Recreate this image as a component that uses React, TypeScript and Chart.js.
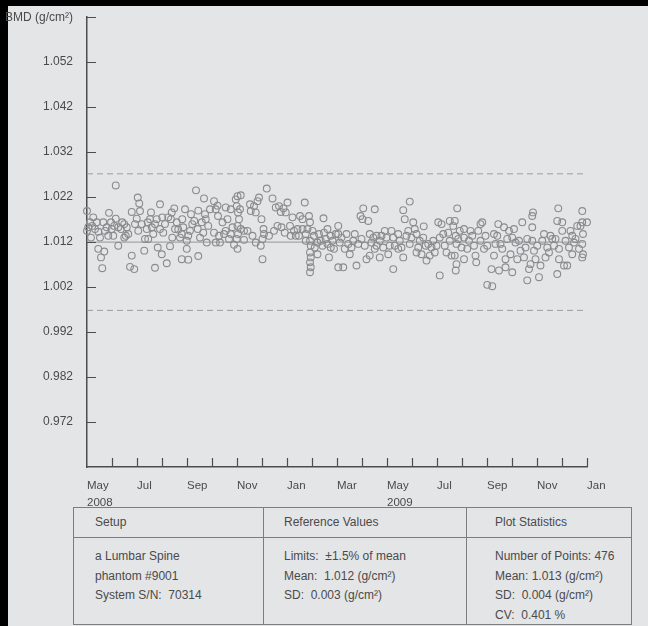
import React, { useEffect, useRef } from 'react';
import { Chart, registerables } from 'chart.js';

Chart.register(...registerables);

// ---- axis definitions ----
const yTickValues = [0.962, 0.972, 0.982, 0.992, 1.002, 1.012, 1.022, 1.032, 1.042, 1.052, 1.062];
const yTickLabels = ['', '0.972', '0.982', '0.992', '1.002', '1.012', '1.022', '1.032', '1.042', '1.052', 'BMD (g/cm²)'];
// months since May 2008
const monthTickLabels = ['May', '', 'Jul', '', 'Sep', '', 'Nov', '', 'Jan', '', 'Mar', '', 'May', '', 'Jul', '', 'Sep', '', 'Nov', '', 'Jan'];
const yearTickLabels = ['2008', '', '', '', '', '', '', '', '', '', '', '', '2009', '', '', '', '', '', '', '', ''];

// ---- reference values ----
const refMean = 1.012;
const limitPercent = 1.5;
const refLineStart = 0;
const refLineEnd = 19.9;

// ---- measurements: [months since 1 May 2008, BMD g/cm²] ----
const mayToSep2008: [number, number][] = [
  [0, 1.0189], [0, 1.0145], [0.12, 1.0164], [0.21, 1.0156], [0.16, 1.013], [0.32, 1.0149], [0.45, 1.0143], [0.45, 1.0105],
  [0.69, 1.0099], [0.56, 1.0086], [0.61, 1.0062], [0.65, 1.0164], [0.79, 1.0153], [0.88, 1.0185], [0.96, 1.0164], [0.85, 1.0134],
  [1.05, 1.0134], [1.15, 1.0246], [1.15, 1.0172], [1.25, 1.0153], [1.25, 1.0112], [1.36, 1.0149], [1.49, 1.016], [1.55, 1.0134],
  [1.65, 1.0138], [1.79, 1.0187], [1.79, 1.009], [1.72, 1.0065], [1.89, 1.006], [1.92, 1.016], [1.99, 1.0172], [2.03, 1.0219],
  [2.09, 1.0206], [2.05, 1.0145], [2.19, 1.016], [2.29, 1.0101], [2.32, 1.0127], [2.39, 1.0149], [2.52, 1.0171], [2.56, 1.0186],
  [2.59, 1.0153], [2.72, 1.016], [2.72, 1.0063], [2.83, 1.0108], [2.92, 1.0204], [2.92, 1.0149], [2.99, 1.0093], [3.05, 1.0141],
  [3.19, 1.0073], [3.25, 1.0175], [3.32, 1.0111], [3.41, 1.013], [3.49, 1.0195], [3.52, 1.0149], [3.65, 1.0148], [3.72, 1.013],
  [3.79, 1.0082], [3.81, 1.0171], [3.92, 1.0193], [3.99, 1.0105], [3.99, 1.0123], [4.05, 1.0081], [4.16, 1.0182], [4.21, 1.016],
  [4.36, 1.0235], [4.45, 1.019], [4.45, 1.0089], [4.52, 1.013], [4.65, 1.0141], [4.68, 1.0217], [4.72, 1.0182], [4.79, 1.0119],
  [4.92, 1.0193], [0.25, 1.0175], [0.72, 1.0145], [1.09, 1.0156], [1.41, 1.0164], [1.59, 1.0153], [2.12, 1.0189], [2.43, 1.0164],
  [2.65, 1.0138], [2.79, 1.0171], [3.12, 1.016], [3.36, 1.0171], [3.59, 1.0164], [3.85, 1.0153], [4.12, 1.0145], [4.29, 1.0167],
  [4.59, 1.0164], [4.85, 1.0156], [0.52, 1.013], [0.05, 1.0153], [1.49, 1.013], [3.39, 1.0186], [3.79, 1.0138], [4.05, 1.0134],
  [0.39, 1.0164], [0.99, 1.0149], [2.45, 1.0127], [3.01, 1.0175], [4.43, 1.0149], [4.75, 1.0171],
];

const octToFeb2009: [number, number][] = [
  [5.08, 1.0211], [5.15, 1.0193], [5.24, 1.0178], [5.22, 1.0201], [5.42, 1.0164], [5.55, 1.0197], [5.62, 1.0171], [5.55, 1.0145],
  [5.08, 1.0141], [5.15, 1.0119], [5.32, 1.0119], [5.75, 1.0193], [5.82, 1.0153], [5.68, 1.0127], [5.88, 1.0114], [5.95, 1.0215],
  [6.02, 1.0222], [6.15, 1.0224], [5.99, 1.02], [6.04, 1.0186], [6.08, 1.0171], [6.02, 1.0156], [6.04, 1.0138], [5.99, 1.0127],
  [6.02, 1.0105], [6.12, 1.0193], [6.15, 1.0149], [6.28, 1.0145], [6.28, 1.0125], [6.52, 1.0204], [6.55, 1.0189], [6.68, 1.02],
  [6.82, 1.0211], [6.88, 1.0219], [6.75, 1.0186], [6.98, 1.0171], [7.06, 1.0149], [7.02, 1.0127], [6.75, 1.0119], [6.95, 1.0112],
  [7.02, 1.0082], [7.19, 1.0239], [7.42, 1.0217], [7.48, 1.0145], [7.62, 1.0156], [7.55, 1.0197], [7.68, 1.02], [7.75, 1.0187],
  [7.86, 1.0195], [7.95, 1.0186], [8.02, 1.0208], [7.91, 1.0141], [8.12, 1.0156], [8.22, 1.0175], [8.28, 1.0145], [8.42, 1.0149],
  [8.35, 1.0134], [8.52, 1.0178], [8.62, 1.0171], [8.71, 1.0208], [8.62, 1.0149], [8.75, 1.0138], [8.82, 1.0149], [8.88, 1.0178],
  [8.92, 1.0164], [8.92, 1.0123], [8.95, 1.0112], [8.92, 1.0097], [8.95, 1.0086], [8.92, 1.0075], [8.95, 1.0064], [8.92, 1.0053],
  [9.08, 1.0134], [9.11, 1.0108], [9.22, 1.0093], [9.28, 1.0138], [9.35, 1.0123], [9.46, 1.0173], [9.42, 1.0112], [9.55, 1.0127],
  [9.62, 1.0116], [9.68, 1.0086], [9.75, 1.0134], [9.82, 1.0123], [9.95, 1.0138], [9.88, 1.0105], [5.28, 1.0134], [5.48, 1.0138],
  [5.75, 1.0138], [6.42, 1.0145], [6.62, 1.0134], [7.08, 1.0138], [7.28, 1.0134], [7.78, 1.0153], [8.15, 1.0134], [8.48, 1.0134],
  [8.75, 1.0123], [9.02, 1.0145], [9.22, 1.0119], [9.48, 1.0141], [9.75, 1.0108], [9.62, 1.0149],
];

const marToJul2009: [number, number][] = [
  [10.05, 1.0156], [10.05, 1.0138], [10.11, 1.0119], [10.05, 1.0064], [10.25, 1.0064], [10.31, 1.0105], [10.38, 1.0138], [10.45, 1.0116],
  [10.51, 1.0093], [10.58, 1.0108], [10.71, 1.0138], [10.78, 1.0068], [10.85, 1.0116], [10.94, 1.0178], [11.02, 1.0171], [11.05, 1.0195],
  [11.25, 1.0167], [11.11, 1.0112], [11.18, 1.0082], [11.31, 1.0138], [11.38, 1.0119], [11.31, 1.009], [11.51, 1.0193], [11.51, 1.0105],
  [11.58, 1.0112], [11.71, 1.0086], [11.71, 1.0123], [11.85, 1.0108], [11.91, 1.0145], [11.98, 1.013], [12.05, 1.0093], [12.18, 1.0145],
  [12.25, 1.006], [12.25, 1.013], [12.31, 1.0112], [12.45, 1.0138], [12.45, 1.0105], [12.51, 1.0123], [12.65, 1.0191], [12.71, 1.0171],
  [12.65, 1.0086], [12.85, 1.0145], [12.91, 1.021], [12.91, 1.0116], [13.05, 1.0164], [13.11, 1.0149], [13.18, 1.0138], [13.25, 1.0108],
  [13.31, 1.0123], [13.38, 1.0093], [13.47, 1.0155], [13.55, 1.0112], [13.58, 1.0079], [13.71, 1.009], [13.78, 1.0108], [13.85, 1.0123],
  [13.91, 1.0097], [13.98, 1.0112], [14.05, 1.0164], [14.11, 1.0046], [14.18, 1.016], [14.25, 1.0138], [14.31, 1.0112], [14.38, 1.0097],
  [14.45, 1.0141], [14.51, 1.0167], [14.58, 1.009], [14.65, 1.0156], [14.71, 1.0167], [14.75, 1.0134], [14.78, 1.0116], [14.71, 1.009],
  [14.78, 1.0071], [14.75, 1.0057], [14.81, 1.0195], [14.91, 1.0145], [14.98, 1.0108], [10.18, 1.013], [10.65, 1.0123], [10.98, 1.0127],
  [11.45, 1.013], [11.78, 1.0134], [12.11, 1.0112], [12.58, 1.0108], [12.78, 1.0134], [12.98, 1.013], [13.45, 1.013], [13.65, 1.0116],
  [14.11, 1.013], [14.51, 1.0123], [14.85, 1.0127], [11.58, 1.0134], [13.18, 1.0097],
];

const augToDec2009: [number, number][] = [
  [15.08, 1.0149], [15.08, 1.013], [15.08, 1.0082], [15.21, 1.0105], [15.28, 1.0123], [15.41, 1.0134], [15.48, 1.0112], [15.54, 1.009],
  [15.57, 1.0075], [15.65, 1.0145], [15.74, 1.016], [15.81, 1.0164], [15.74, 1.0123], [15.88, 1.0105], [16.01, 1.0112], [16.01, 1.0025],
  [16.21, 1.0022], [16.18, 1.006], [16.28, 1.0138], [16.28, 1.009], [16.34, 1.0116], [16.45, 1.016], [16.48, 1.0057], [16.54, 1.0116],
  [16.61, 1.0105], [16.68, 1.0153], [16.74, 1.0082], [16.74, 1.0064], [16.81, 1.0127], [16.88, 1.0145], [16.94, 1.0093], [17.01, 1.0053],
  [17.08, 1.0149], [17.14, 1.0119], [17.21, 1.0082], [17.28, 1.0123], [17.41, 1.0164], [17.48, 1.0086], [17.54, 1.0108], [17.61, 1.0035],
  [17.68, 1.006], [17.74, 1.0071], [17.81, 1.0178], [17.84, 1.0186], [17.81, 1.0153], [17.81, 1.0123], [17.88, 1.0101], [17.94, 1.0082],
  [18.01, 1.0112], [18.08, 1.0042], [18.14, 1.0068], [18.21, 1.0123], [18.34, 1.0086], [18.41, 1.0108], [18.54, 1.0134], [18.61, 1.0127],
  [18.68, 1.0112], [18.81, 1.0049], [18.81, 1.0167], [18.85, 1.0195], [18.88, 1.0082], [18.88, 1.0105], [19.01, 1.0164], [19.01, 1.0145],
  [19.08, 1.0068], [19.21, 1.0068], [19.28, 1.0108], [19.34, 1.0145], [19.41, 1.0093], [19.48, 1.0119], [19.54, 1.0127], [19.74, 1.0156],
  [19.81, 1.0189], [19.81, 1.0164], [19.84, 1.0138], [19.81, 1.0116], [19.84, 1.0093], [19.81, 1.0086], [20.0, 1.0164], [19.61, 1.0156],
  [15.34, 1.0145], [15.94, 1.0134], [16.41, 1.0134], [17.01, 1.013], [17.34, 1.0101], [17.61, 1.0127], [18.28, 1.0138], [18.48, 1.0097],
  [18.74, 1.0127], [19.14, 1.0123], [19.41, 1.0134], [19.68, 1.0105],
];

// ---- table text ----
const tableHeaders = ['Setup', 'Reference Values', 'Plot Statistics'];
const setupLines = ['a Lumbar Spine', 'phantom #9001', 'System S/N:  70314'];
const referenceLines = ['Limits:  ±1.5% of mean', 'Mean:  1.012 (g/cm²)', 'SD:  0.003 (g/cm²)'];
const statisticsLines = ['Number of Points: 476', 'Mean: 1.013 (g/cm²)', 'SD:  0.004 (g/cm²)', 'CV:  0.401 %'];

const FONT = "'Liberation Sans', Arial, Helvetica, sans-serif";
const TEXT = '#4a4a4a';
const AXIS = '#4d4d4d';

const innerTicks = {
  id: 'innerTicks',
  afterDraw(chart: any) {
    const { ctx, chartArea, scales } = chart;
    ctx.save();
    ctx.strokeStyle = AXIS;
    ctx.lineWidth = 1.2;
    ctx.beginPath();
    scales.y.ticks.forEach((t: any, i: number) => {
      if (i === 0) return;
      const y = Math.round(scales.y.getPixelForValue(t.value)) + 0.5;
      ctx.moveTo(chartArea.left, y);
      ctx.lineTo(chartArea.left + 9, y);
    });
    scales.x.ticks.forEach((t: any, i: number) => {
      if (i === 0) return;
      const x = Math.round(scales.x.getPixelForValue(t.value)) + 0.5;
      ctx.moveTo(x, chartArea.bottom);
      ctx.lineTo(x, chartArea.bottom - 9);
    });
    ctx.stroke();
    ctx.restore();
  },
};

export default function App() {
  const canvasRef = useRef<HTMLCanvasElement | null>(null);

  useEffect(() => {
    const canvas = canvasRef.current;
    if (!canvas) return;
    const points = [...mayToSep2008, ...octToFeb2009, ...marToJul2009, ...augToDec2009].map(([x, y]) => ({ x, y }));
    const upper = refMean * (1 + limitPercent / 100);
    const lower = refMean * (1 - limitPercent / 100);
    const chart = new Chart(canvas, {
      type: 'scatter',
      data: {
        datasets: [
          {
            type: 'scatter',
            data: points,
            pointRadius: 3.4,
            pointBorderWidth: 1.1,
            pointBorderColor: '#8a8b8d',
            pointBackgroundColor: 'rgba(0,0,0,0)',
            clip: false,
          } as any,
          {
            type: 'line',
            data: [{ x: refLineStart, y: refMean }, { x: refLineEnd, y: refMean }],
            borderColor: '#a4a5a7',
            borderWidth: 1.2,
            pointRadius: 0,
          },
          {
            type: 'line',
            data: [{ x: refLineStart, y: upper }, { x: refLineEnd, y: upper }],
            borderColor: '#9c9d9f',
            borderWidth: 1,
            borderDash: [6, 4],
            pointRadius: 0,
          },
          {
            type: 'line',
            data: [{ x: refLineStart, y: lower }, { x: refLineEnd, y: lower }],
            borderColor: '#9c9d9f',
            borderWidth: 1,
            borderDash: [6, 4],
            pointRadius: 0,
          },
        ],
      },
      options: {
        animation: false,
        responsive: false,
        layout: { padding: { left: 0, right: 61, top: 9.6, bottom: 0 } },
        plugins: { legend: { display: false }, tooltip: { enabled: false } },
        scales: {
          x: {
            type: 'linear',
            min: 0,
            max: 20,
            grid: { display: false },
            border: { display: true, color: AXIS, width: 1.5 },
            afterBuildTicks: (s: any) => {
              s.ticks = monthTickLabels.map((_, i) => ({ value: i }));
            },
            afterFit: (s: any) => {
              s.height = 39;
            },
            ticks: {
              autoSkip: false,
              maxRotation: 0,
              align: 'start',
              padding: 3,
              color: TEXT,
              font: { family: FONT, size: 11.5, lineHeight: 1.42 },
              callback: (_v: any, i: number) =>
                yearTickLabels[i] ? [monthTickLabels[i], yearTickLabels[i]] : monthTickLabels[i],
            },
          },
          y: {
            type: 'linear',
            min: 0.962,
            max: 1.062,
            grid: { display: false, drawTicks: false },
            border: { display: true, color: AXIS, width: 1.5 },
            afterBuildTicks: (s: any) => {
              s.ticks = yTickValues.map((v) => ({ value: v }));
            },
            afterFit: (s: any) => {
              s.width = 87;
            },
            ticks: {
              autoSkip: false,
              padding: 14,
              color: TEXT,
              font: { family: FONT, size: 12 },
              callback: (_v: any, i: number) => yTickLabels[i],
            },
          },
        },
      },
      plugins: [innerTicks],
    });
    return () => chart.destroy();
  }, []);

  const cellText: React.CSSProperties = {
    fontFamily: FONT,
    fontSize: 12,
    color: TEXT,
    whiteSpace: 'pre',
    lineHeight: '19.5px',
  };
  const columns = [
    { left: 0, width: 190, pad: 22, lines: setupLines },
    { left: 190, width: 203, pad: 21, lines: referenceLines },
    { left: 393, width: 166, pad: 29, lines: statisticsLines },
  ];
  const border = '1px solid #7c7d7f';

  return (
    <div style={{ position: 'fixed', left: 0, top: 0, width: 648, height: 626, background: '#000', overflow: 'hidden' }}>
      <div style={{ position: 'absolute', left: 8, top: 6, width: 640, height: 620, background: '#e4e5e7' }} />
      <canvas ref={canvasRef} width={648} height={510} style={{ position: 'absolute', left: 0, top: -4, display: 'block' }} />
      <div
        style={{
          position: 'absolute',
          left: 73,
          top: 507,
          width: 559,
          height: 118,
          border,
          boxSizing: 'border-box',
        }}
      >
        <div style={{ position: 'absolute', left: 0, top: 29, width: 557, height: 0, borderTop: border }} />
        {columns.map((c, ci) => (
          <React.Fragment key={ci}>
            {ci > 0 && (
              <div style={{ position: 'absolute', left: c.left - 1, top: 0, width: 0, height: 116, borderLeft: border }} />
            )}
            <div style={{ ...cellText, position: 'absolute', left: c.left + c.pad - 1, top: 5 }}>{tableHeaders[ci]}</div>
            <div style={{ ...cellText, position: 'absolute', left: c.left + c.pad - 1, top: 39 }}>
              {c.lines.map((l, li) => (
                <div key={li}>{l}</div>
              ))}
            </div>
          </React.Fragment>
        ))}
      </div>
    </div>
  );
}
